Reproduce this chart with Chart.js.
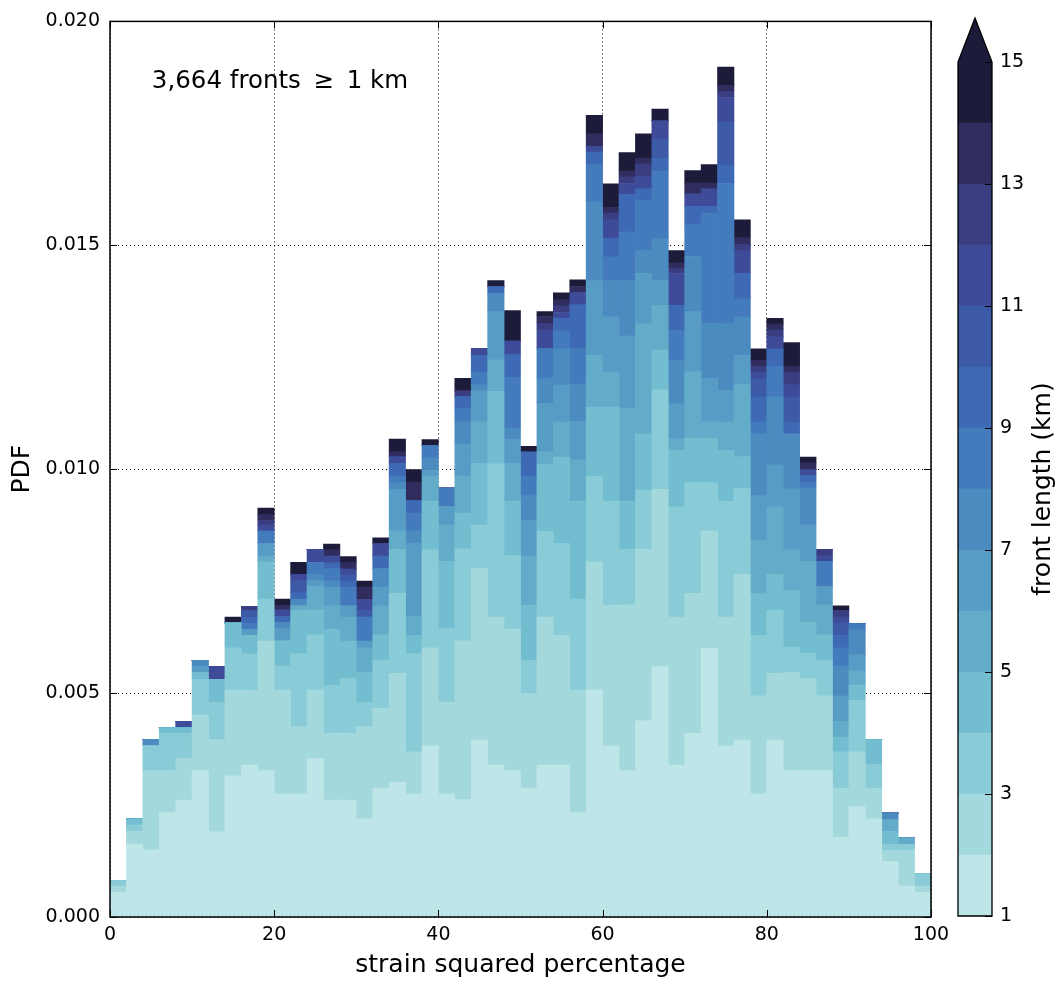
<!DOCTYPE html>
<html>
<head>
<meta charset="utf-8">
<script src="https://cdn.jsdelivr.net/npm/chart.js@4.4.1/dist/chart.umd.min.js"></script>
<style>
html,body{margin:0;padding:0;background:#fff;}
#wrap{position:relative;width:1062px;height:985px;overflow:hidden;background:#fff;}
#main{position:absolute;left:0;top:0;}
#cbar{position:absolute;left:940px;top:0;}
</style>
</head>
<body>
<div id="wrap">
<canvas id="main" width="960" height="985"></canvas>
<canvas id="cbar" width="122" height="985"></canvas>
</div>
<script>
// ---------------- DATA ----------------
// bin centres of strain squared percentage (2 % wide bins)
const binCenters = [1,3,5,7,9,11,13,15,17,19,21,23,25,27,29,31,33,35,37,39,41,43,45,47,49,
                    51,53,55,57,59,61,63,65,67,69,71,73,75,77,79,81,83,85,87,89,91,93,95,97,99];

// PDF contribution of each front-length class (km), stacked bottom to top
const len1 = [0.00055,0.00163,0.00150,0.00233,0.00261,0.00327,0.00190,0.00315,0.00339,0.00327,
              0.00275,0.00275,0.00354,0.00261,0.00261,0.00219,0.00287,0.00301,0.00275,0.00382,
              0.00275,0.00262,0.00395,0.00339,0.00327,0.00287,0.00339,0.00339,0.00233,0.00507,
              0.00382,0.00327,0.00438,0.00559,0.00339,0.00410,0.00600,0.00382,0.00395,0.00275,
              0.00395,0.00327,0.00327,0.00327,0.00178,0.00246,0.00219,0.00124,0.00069,0.00055];
const len2 = [0.00014,0.00028,0.00177,0.00094,0.00093,0.00124,0.00206,0.00192,0.00167,0.00289,
              0.00232,0.00150,0.00153,0.00149,0.00149,0.00206,0.00179,0.00243,0.00094,0.00219,
              0.00205,0.00355,0.00383,0.00331,0.00316,0.00212,0.00331,0.00290,0.00274,0.00286,
              0.00314,0.00370,0.00383,0.00396,0.00331,0.00313,0.00262,0.00288,0.00370,0.00219,
              0.00149,0.00219,0.00205,0.00167,0.00109,0.00123,0.00068,0.00025,0.00080,0.00014];
const len3 = [0.00013,0.00015,0.00056,0.00083,0.00056,0.00080,0.00083,0.00094,0.00081,0.00094,
              0.00054,0.00163,0.00123,0.00107,0.00123,0.00054,0.00108,0.00179,0.00219,0.00219,
              0.00164,0.00205,0.00097,0.00342,0.00164,0.00074,0.00191,0.00205,0.00203,0.00191,
              0.00232,0.00124,0.00132,0.00222,0.00246,0.00247,0.00108,0.00258,0.00192,0.00135,
              0.00141,0.00057,0.00057,0.00080,0.00082,0.00115,0.00054,0.00013,0.00013,0.00028];
const len4 = [0,0.00013,0,0.00013,0.00013,0.00015,0.00052,0.00056,0.00042,0.00083,
              0.00056,0.00097,0.00056,0.00126,0.00083,0.00067,0.00056,0.00098,0.00041,0.00108,
              0.00150,0.00080,0.00138,0.00162,0.00122,0.00123,0.00150,0.00193,0.00219,0.00155,
              0.00211,0.00108,0.00126,0.00089,0.00126,0.00099,0.00099,0.00114,0.00071,0.00093,
              0.00080,0.00126,0.00069,0.00056,0.00033,0.00033,0.00055,0.00029,0,0];
const len5 = [0,0,0,0,0,0,0,0,0,0.00013,
              0,0.00010,0.00052,0.00052,0.00054,0.00055,0.00065,0.00042,0.00042,0.00056,
              0.00082,0.00083,0.00093,0.00070,0.00084,0.00110,0.00028,0.00078,0.00092,0.00115,
              0.00078,0.00207,0.00246,0.00100,0.00026,0.00149,0.00037,0.00063,0.00161,0.00119,
              0.00151,0.00091,0.00136,0.00067,0.00035,0.00033,0,0.00027,0.00015,0];
const len6 = [0,0,0,0,0,0.00014,0,0,0.00013,0.00028,
              0.00027,0,0.00013,0.00042,0.00025,0.00015,0.00042,0.00092,0.00164,0.00013,
              0.00041,0.00071,0.00069,0.00108,0.00054,0.00080,0.00108,0.00083,0.00086,0.00167,
              0.00123,0.00162,0.00112,0.00056,0.00078,0.00134,0.00097,0.00071,0.00065,0.00100,
              0.00094,0.00136,0.00082,0.00041,0.00057,0.00036,0,0,0,0];
const len7 = [0,0,0.00014,0,0,0.00013,0,0,0,0,
              0.00014,0.00014,0.00014,0.00013,0,0,0.00041,0.00015,0.00028,0.00028,
              0,0.00050,0.00014,0.00041,0.00025,0.00056,0.00056,0.00080,0.00083,0.00176,
              0.00082,0.00124,0.00052,0.00093,0.00097,0.00123,0.00123,0.00149,0.00086,0.00138,
              0.00151,0.00123,0.00082,0,0.00066,0.00055,0,0.00014,0,0];
const len8 = [0,0,0,0,0,0,0,0,0.00014,0.00028,
              0,0,0.00027,0.00028,0.00042,0.00054,0,0.00015,0.00039,0.00028,
              0.00041,0.00030,0.00028,0,0.00113,0.00042,0.00067,0.00041,0.00080,0.00083,
              0.00052,0.00108,0.00112,0.00151,0.00067,0.00071,0.00246,0.00313,0.00041,0.00026,
              0.00068,0,0.00013,0.00056,0.00041,0.00014,0,0,0,0];
const len9 = [0,0,0,0,0,0,0,0,0.00013,0,
              0.00013,0.00015,0,0.00013,0.00013,0,0.00028,0.00028,0.00028,0,
              0,0.00026,0.00037,0.00015,0.00051,0.00054,0,0.00028,0.00097,0.00028,
              0.00041,0.00084,0.00025,0.00028,0.00056,0.00041,0.00015,0.00041,0.00056,0.00056,
              0.00039,0.00026,0.00015,0,0.00028,0,0,0,0,0];
const len10 = [0,0,0,0,0,0,0,0,0.00015,0,
               0,0.00027,0,0,0.00014,0.00015,0,0,0,0,
               0,0,0,0,0,0,0,0,0,0,
               0,0,0,0.00043,0,0,0,0.00097,0,0.00041,
               0,0.00056,0,0,0.00028,0,0,0,0,0];
const len11 = [0,0,0,0,0.00014,0,0.00028,0,0,0.00013,
               0.00015,0.00014,0.00029,0.00015,0.00013,0.00024,0.00028,0.00015,0,0,
               0,0,0.00015,0,0.00030,0,0.00041,0.00013,0.00028,0.00013,
               0.00042,0.00024,0.00028,0.00041,0.00071,0.00028,0.00039,0.00054,0.00052,0.00015,
               0.00028,0.00028,0.00013,0.00013,0.00013,0,0,0,0,0];
const len12 = [0,0,0,0,0,0,0,0,0.00010,0.00011,
               0,0,0,0,0,0,0,0,0,0,
               0,0.00013,0,0,0,0,0.00015,0.00015,0,0,
               0.00015,0.00015,0.00028,0,0.00011,0,0,0.00014,0.00013,0.00013,
               0.00015,0.00028,0,0.00014,0.00015,0,0,0,0,0];
const len13 = [0,0,0,0,0,0,0,0,0,0.00013,
               0.00010,0,0,0.00014,0.00015,0.00028,0,0.00011,0.00041,0,
               0,0,0,0,0,0,0.00015,0.00013,0.00013,0.00028,
               0.00013,0.00013,0.00013,0,0.00013,0.00024,0.00013,0.00013,0.00015,0.00013,
               0.00013,0.00013,0.00015,0,0,0,0,0,0,0];
const len14 = [0,0,0,0,0,0,0,0.00013,0,0.00014,
               0.00014,0.00027,0,0.00013,0.00013,0.00013,0.00013,0.00028,0.00028,0.00013,
               0,0.00028,0,0.00013,0.00068,0.00013,0.00011,0.00016,0.00015,0.00041,
               0.00052,0.00041,0.00054,0.00026,0.00027,0.00028,0.00041,0.00041,0.00040,0.00026,
               0.00013,0.00053,0.00013,0,0.00010,0,0,0,0,0];

const layers = [len1,len2,len3,len4,len5,len6,len7,len8,len9,len10,len11,len12,len13,len14];
const layerLabels = ['1-2 km','2-3 km','3-4 km','4-5 km','5-6 km','6-7 km','7-8 km',
                     '8-9 km','9-10 km','10-11 km','11-12 km','12-13 km','13-14 km','\u226514 km'];
const layerColors = ['#bee5e7','#a3d8dd','#89cbd6','#73bdd0','#62abc9','#569cc5','#4b8bc0',
                     '#437bbc','#3e69b4','#3d5aa6','#3d4b98','#3a3e80','#302d5e','#1c1b3a'];

const xTicks = [0,20,40,60,80,100];
const yTicks = [0,0.005,0.010,0.015,0.020];
const cbarLevels = [1,2,3,4,5,6,7,8,9,10,11,12,13,14,15];
const cbarTicks = [1,3,5,7,9,11,13,15];
const annotation = '3,664 fronts \u2009\u2265\u2009 1 km';

// ---------------- CHARTS ----------------
Chart.defaults.font.family = "'DejaVu Sans', sans-serif";
Chart.defaults.color = '#000';

const mainDeco = {
  id: 'mainDeco',
  afterDraw(chart) {
    const {ctx, chartArea: a, scales: {x, y}} = chart;
    ctx.save();
    ctx.strokeStyle = '#000';
    ctx.lineWidth = 1;
    ctx.beginPath();
    xTicks.forEach(v => {
      const px = Math.round(x.getPixelForValue(v)) + 0.5;
      ctx.moveTo(px, a.bottom); ctx.lineTo(px, a.bottom - 7);
      ctx.moveTo(px, a.top); ctx.lineTo(px, a.top + 7);
    });
    yTicks.forEach(v => {
      const py = Math.round(y.getPixelForValue(v)) + 0.5;
      ctx.moveTo(a.left, py); ctx.lineTo(a.left + 7, py);
      ctx.moveTo(a.right, py); ctx.lineTo(a.right - 7, py);
    });
    ctx.stroke();
    ctx.lineWidth = 1.5;
    ctx.strokeRect(a.left, a.top, a.right - a.left, a.bottom - a.top);
    ctx.fillStyle = '#000';
    ctx.font = "24.5px 'DejaVu Sans'";
    ctx.textBaseline = 'alphabetic';
    ctx.textAlign = 'left';
    ctx.fillText(annotation, a.left + 0.051 * (a.right - a.left), a.top + 0.074 * (a.bottom - a.top));
    ctx.restore();
  }
};

new Chart(document.getElementById('main'), {
  type: 'bar',
  data: {
    datasets: layers.map((arr, k) => ({
      label: layerLabels[k],
      data: arr.map((v, i) => ({x: binCenters[i], y: v})),
      backgroundColor: layerColors[k],
      borderWidth: 0,
      barPercentage: 1,
      categoryPercentage: 1,
      stack: 'fronts'
    }))
  },
  options: {
    responsive: false,
    animation: false,
    devicePixelRatio: 1,
    layout: {padding: {left: 0, right: 29, top: 21, bottom: 0}},
    plugins: {legend: {display: false}, tooltip: {enabled: false}},
    scales: {
      x: {
        type: 'linear', min: 0, max: 100, stacked: true, offset: false, z: 1,
        ticks: {stepSize: 20, font: {size: 19}, padding: 7, color: '#000', maxRotation: 0, autoSkip: false},
        grid: {color: '#000', lineWidth: 1, drawTicks: false, offset: false},
        border: {display: false, dash: [1, 3]},
        title: {display: true, text: 'strain squared percentage', font: {size: 25}, color: '#000', padding: {top: 0, bottom: 5}},
        afterFit: s => { s.height = 68; }
      },
      y: {
        type: 'linear', min: 0, max: 0.02, stacked: true, z: 1,
        ticks: {stepSize: 0.005, font: {size: 19}, padding: 10, color: '#000',
                callback: v => Number(v).toFixed(3)},
        grid: {color: '#000', lineWidth: 1, drawTicks: false},
        border: {display: false, dash: [1, 3]},
        title: {display: true, text: 'PDF', font: {size: 25}, color: '#000', padding: {top: 7, bottom: 0}},
        afterFit: s => { s.width = 110; }
      }
    }
  },
  plugins: [mainDeco]
});

const cbarDeco = {
  id: 'cbarDeco',
  afterDraw(chart) {
    const {ctx, chartArea: a, scales: {y}} = chart;
    const mid = (a.left + a.right) / 2;
    const tipY = a.top - 44;
    ctx.save();
    ctx.beginPath();
    ctx.moveTo(a.left, a.top); ctx.lineTo(mid, tipY); ctx.lineTo(a.right, a.top); ctx.closePath();
    ctx.fillStyle = layerColors[layerColors.length - 1];
    ctx.fill();
    ctx.strokeStyle = '#000';
    ctx.lineWidth = 1.3;
    ctx.beginPath();
    ctx.moveTo(a.left, a.bottom); ctx.lineTo(a.left, a.top); ctx.lineTo(mid, tipY);
    ctx.lineTo(a.right, a.top); ctx.lineTo(a.right, a.bottom); ctx.closePath();
    ctx.stroke();
    ctx.lineWidth = 1;
    ctx.beginPath();
    cbarTicks.forEach(v => {
      const py = Math.round(y.getPixelForValue(v)) + 0.5;
      ctx.moveTo(a.right, py); ctx.lineTo(a.right - 7, py);
    });
    ctx.stroke();
    ctx.translate(103, (a.top + a.bottom) / 2);
    ctx.rotate(-Math.PI / 2);
    ctx.fillStyle = '#000';
    ctx.font = "25px 'DejaVu Sans'";
    ctx.textAlign = 'center';
    ctx.textBaseline = 'middle';
    ctx.fillText('front length (km)', 0, 0);
    ctx.restore();
  }
};

new Chart(document.getElementById('cbar'), {
  type: 'bar',
  data: {
    labels: [''],
    datasets: layerColors.map((c, k) => ({
      label: layerLabels[k],
      data: [[cbarLevels[k], cbarLevels[k + 1]]],
      backgroundColor: c,
      borderWidth: 0,
      barPercentage: 1,
      categoryPercentage: 1,
      stack: 'cb'
    }))
  },
  options: {
    responsive: false,
    animation: false,
    devicePixelRatio: 1,
    layout: {padding: {left: 18, right: 0, top: 62, bottom: 69}},
    plugins: {legend: {display: false}, tooltip: {enabled: false}},
    scales: {
      x: {display: false, stacked: true},
      y: {
        position: 'right', min: 1, max: 15, stacked: false,
        ticks: {stepSize: 2, font: {size: 19}, padding: 8, color: '#000'},
        grid: {display: false, drawTicks: false},
        border: {display: false},
        afterFit: s => { s.width = 70; }
      }
    }
  },
  plugins: [cbarDeco]
});
</script>
</body>
</html>
